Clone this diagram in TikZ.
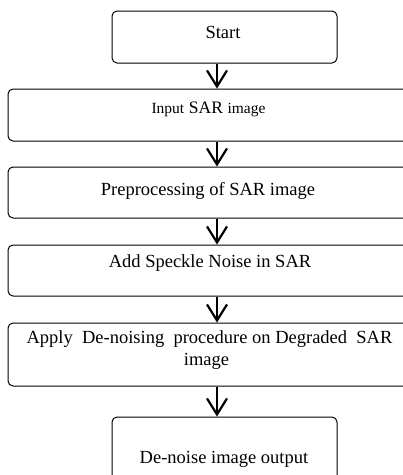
\documentclass[tikz,border=0pt]{standalone}
\usepackage{fontspec}
\setmainfont{Liberation Serif}
\usetikzlibrary{arrows.meta}
\tikzset{
  stepbox/.style={draw=black, line width=1pt, rounded corners=5pt, inner sep=0pt},
  label/.style={anchor=base, inner sep=0pt, font=\fontsize{18.5}{22}\selectfont},
  flowarrow/.style={line width=2.2pt, -{Straight Barb[length=16pt,width=20pt]}},
}
\begin{document}
\begin{tikzpicture}[x=1pt, y=-1pt]
  \useasboundingbox (0,0) rectangle (403,475);
  \clip (0,0) rectangle (403,475);

  % process boxes
  \node[stepbox, minimum width=225pt, minimum height=52pt] (start)  at (224.5,37) {};
  \node[stepbox, minimum width=402pt, minimum height=52pt] (input)  at (209,115) {};
  \node[stepbox, minimum width=402pt, minimum height=51pt] (prep)   at (209,192.5) {};
  \node[stepbox, minimum width=402pt, minimum height=51pt] (noise)  at (209,270.5) {};
  \node[stepbox, minimum width=402pt, minimum height=63pt] (denoise) at (209,354.5) {};
  \node[stepbox, minimum width=225pt, minimum height=80pt] (output) at (224.5,457) {};

  % box texts
  \node[label] (tstart) at (223,38) {Start};
  \node[label] (tinput) at (208.5,113) {{\fontsize{15.5}{18}\selectfont Input} {\fontsize{17.5}{20}\selectfont SAR} {\fontsize{15.5}{18}\selectfont image}};
  \node[label] (tprep) at (208,195) {Preprocessing of SAR image};
  \node[label] (tnoise) at (210,267) {Add Speckle Noise in SAR};
  \node[label] (tden1) at (209.5,343) {Apply\ \ De-noising\ \ procedure on Degraded\ \ SAR};
  \node[label] (tden2) at (206.5,365) {image};
  \node[label] (tout) at (224,463) {De-noise image output};

  % connectors
  \coordinate (ax) at (217,0);
  \draw[flowarrow] (start.south -| ax) -- (input.north -| ax);
  \draw[flowarrow] (input.south -| ax) -- (prep.north -| ax);
  \draw[flowarrow] (prep.south -| ax) -- (noise.north -| ax);
  \draw[flowarrow] (noise.south -| ax) -- (denoise.north -| ax);
  \draw[flowarrow] (denoise.south -| ax) -- (output.north -| ax);
\end{tikzpicture}
\end{document}
